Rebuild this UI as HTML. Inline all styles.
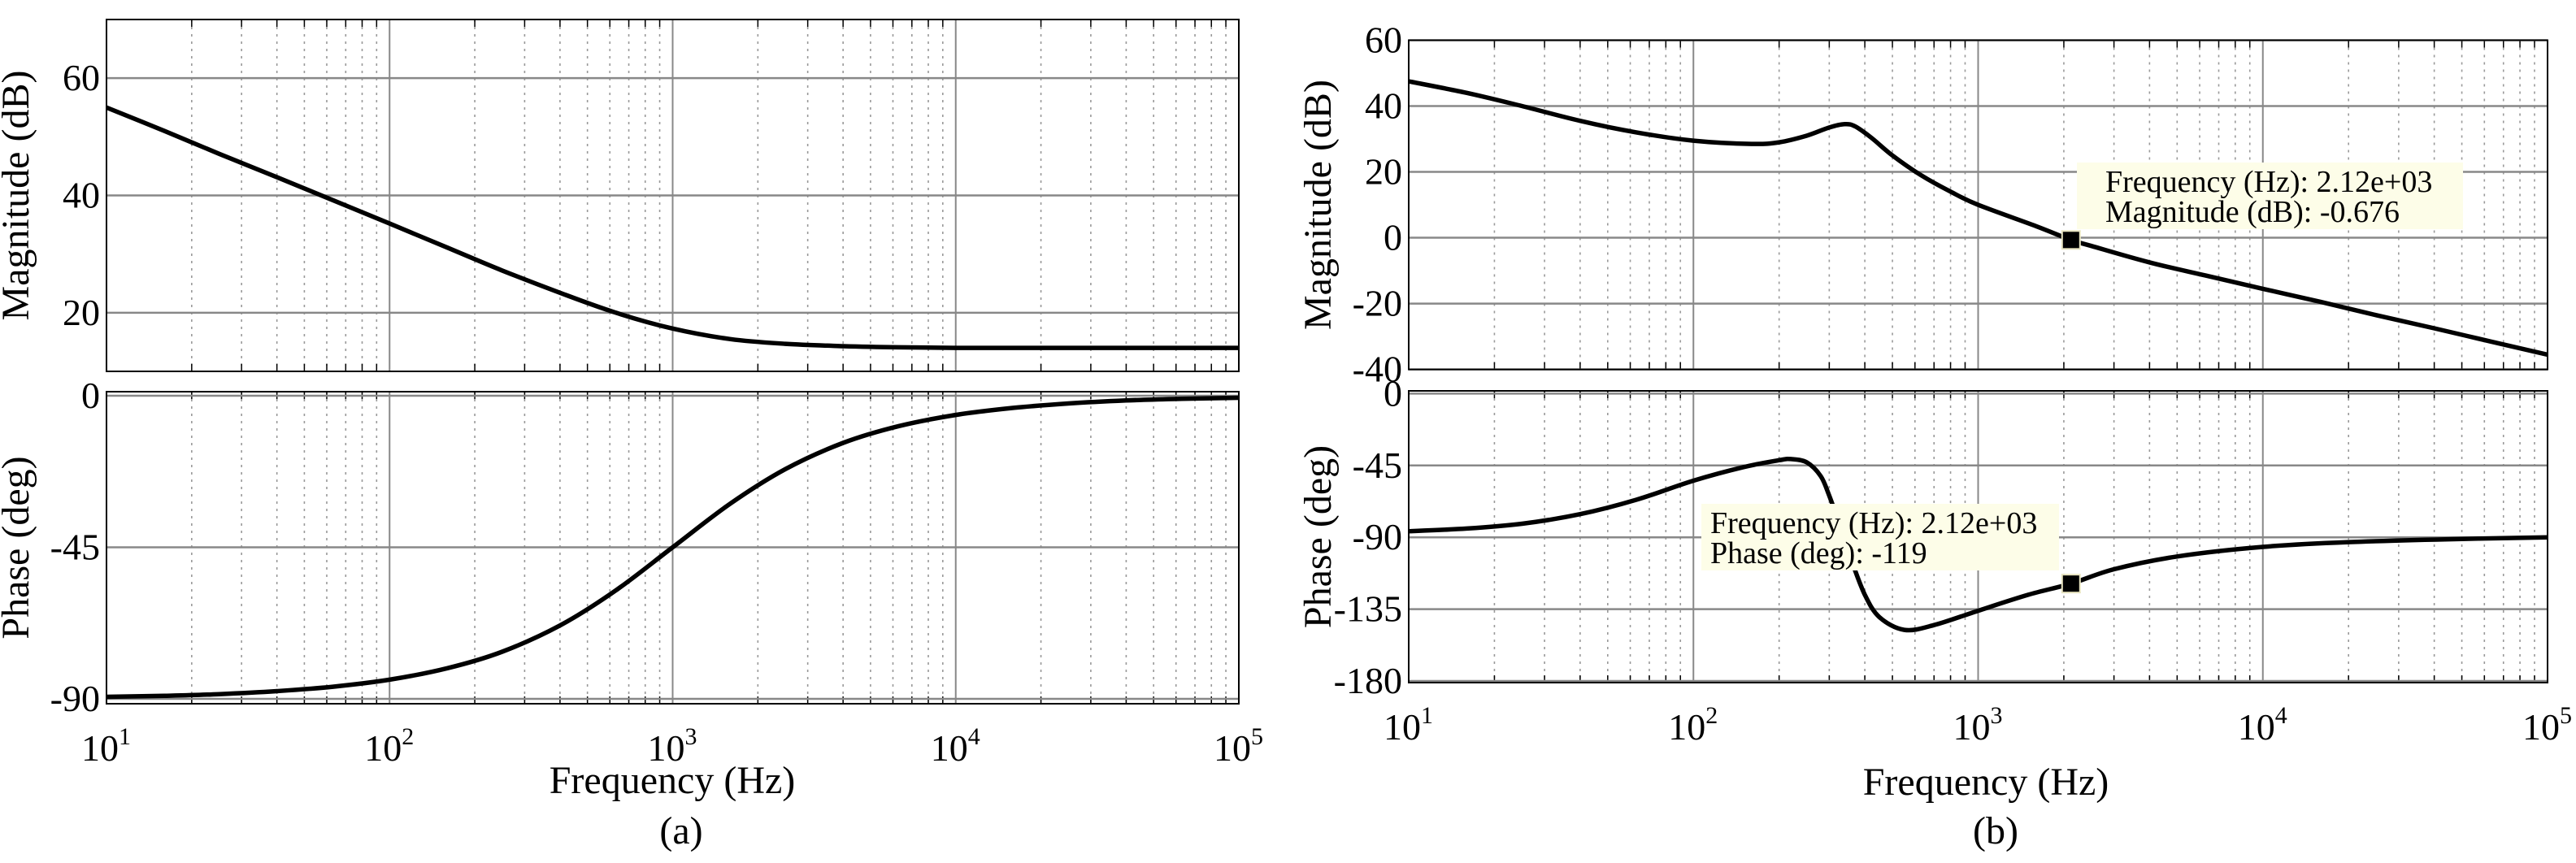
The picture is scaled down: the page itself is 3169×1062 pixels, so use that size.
<!DOCTYPE html>
<html><head><meta charset="utf-8">
<style>
html,body{margin:0;padding:0;background:#fff;}
svg{display:block;}
svg text{font-family:"Liberation Serif","DejaVu Serif",serif;fill:#000;}
</style></head>
<body>
<svg id="c" width="3169" height="1062" viewBox="0 0 3169 1062" font-family="Liberation Serif, serif" xmlns="http://www.w3.org/2000/svg"></svg>
<script>
// Panel (a) data
const aMagFreq = [10,16,25,40,63,100,160,250,400,630,1000,1600,2500,4000,6300,10000,16000,25000,40000,63000,100000];
const aMagVals = [55,51,47.1,43.1,39.2,35.2,31.1,27.2,23.4,20,17.3,15.5,14.7,14.3,14.1,14,14,14,14,14,14];
const aPhFreq = [10,16,25,40,63,100,160,250,400,630,1000,1600,2500,4000,6300,10000,16000,25000,40000,63000,100000];
const aPhVals = [-89.4,-89.1,-88.6,-87.7,-86.4,-84.3,-80.9,-76,-68.2,-57.8,-45,-32,-21.8,-14,-9,-5.7,-3.6,-2.3,-1.4,-0.9,-0.6];
// Panel (b) data
const bMagFreq = [10,16,25,40,63,100,160,200,250,300,340,370,420,500,630,800,1000,1600,2120,2500,4000,6300,10000,16000,25000,40000,63000,100000];
const bMagVals = [47.5,44,40,35.5,32,29.5,28.5,29,31,33.5,34.5,33.8,30.5,25,19,14,10,3.5,-0.676,-2.5,-7.5,-11.5,-15.5,-19.5,-23.5,-27.5,-31.5,-35.5];
const bPhFreq = [10,16,25,40,63,100,150,200,220,250,280,300,330,360,400,450,550,700,1000,1500,2120,3000,5000,10000,20000,50000,100000];
const bPhVals = [-86.2,-84.5,-81.5,-75.5,-66.5,-54.5,-46,-41.7,-41,-43,-51.7,-64,-84.5,-105,-126,-140,-148,-145,-136,-126,-119,-110,-102,-96,-93,-91,-90];
const xTickLabels = ["1","2","3","4","5"];
const aMagTicks = [20,40,60];
const aPhTicks = [0,-45,-90];
const bMagTicks = [60,40,20,0,-20,-40];
const bPhTicks = [0,-45,-90,-135,-180];
const tipFreq = 2120, tipMag = -0.676, tipPh = -119;

const svg = document.getElementById('c');
const NS = 'http://www.w3.org/2000/svg';
function mk(tag, attrs, parent){const e=document.createElementNS(NS,tag);for(const k in attrs)e.setAttribute(k,attrs[k]);(parent||svg).appendChild(e);return e;}

function axisX(x0,x1){return f=>x0+(Math.log10(f)-1)/4*(x1-x0);}
function axisY(vTop,yTop,vBot,yBot){return v=>yTop+(v-vTop)/(vBot-vTop)*(yBot-yTop);}

function pathFrom(fs,vs,X,Y){
  const p=fs.map((f,i)=>[X(f),Y(vs[i])]);
  let d='M'+p[0][0].toFixed(1)+','+p[0][1].toFixed(1);
  for(let i=0;i<p.length-1;i++){
    const p0=p[Math.max(0,i-1)],p1=p[i],p2=p[i+1],p3=p[Math.min(p.length-1,i+2)];
    const c1x=p1[0]+(p2[0]-p0[0])/6,c1y=p1[1]+(p2[1]-p0[1])/6;
    const c2x=p2[0]-(p3[0]-p1[0])/6,c2y=p2[1]-(p3[1]-p1[1])/6;
    d+=' C'+c1x.toFixed(1)+','+c1y.toFixed(1)+' '+c2x.toFixed(1)+','+c2y.toFixed(1)+' '+p2[0].toFixed(1)+','+p2[1].toFixed(1);
  }
  return d;
}

function panel(name,x0,x1,yT,yB,Y,ticks,ylabel,fs,vs,showX,xLabelY){
  const g=mk('g',{});
  
  
  const X=axisX(x0,x1);
  const clipId=name+'-clip';
  const cp=mk('clipPath',{id:clipId},g);
  mk('rect',{x:x0,y:yT,width:x1-x0,height:yB-yT},cp);
  for(let dec=1;dec<5;dec++){for(let m=2;m<=9;m++){
    const x=X(m*Math.pow(10,dec));
    const l=mk('line',{x1:x,x2:x,y1:yT,y2:yB,stroke:'#999','stroke-width':1.6,'stroke-dasharray':'3,6'},g);
    
    
    mk('line',{x1:x,x2:x,y1:yT,y2:yT+9,stroke:'#000','stroke-width':1.5},g);
    mk('line',{x1:x,x2:x,y1:yB,y2:yB-9,stroke:'#000','stroke-width':1.5},g);
  }}
  for(let dec=2;dec<5;dec++){
    const x=X(Math.pow(10,dec));
    const l=mk('line',{x1:x,x2:x,y1:yT,y2:yB,stroke:'#888','stroke-width':2},g);
    
    
  }
  ticks.forEach(v=>{
    const y=Y(v);
    const l=mk('line',{x1:x0,x2:x1,y1:y,y2:y,stroke:'#888','stroke-width':2.5},g);
    
    
    const t=mk('text',{x:x0-8,y:y+15,'text-anchor':'end','font-size':46},g);
    t.textContent=v;
    
    
  });
  const box=mk('rect',{x:x0,y:yT,width:x1-x0,height:yB-yT,fill:'none',stroke:'#000','stroke-width':2},g);
  
  
  const cur=mk('path',{d:pathFrom(fs,vs,X,Y),fill:'none',stroke:'#000','stroke-width':5.5,'stroke-linejoin':'round','clip-path':'url(#'+clipId+')'},g);
  
  
  const cy=(yT+yB)/2;
  const yl=mk('text',{x:0,y:0,'text-anchor':'middle','font-size':48,transform:'translate('+(x0-96)+','+cy+') rotate(-90)'},g);
  yl.textContent=ylabel;
  
  
  if(showX){
    xTickLabels.forEach((e,i)=>{
      const x=X(Math.pow(10,i+1));
      const t=mk('text',{x:x-8,y:xLabelY,'text-anchor':'middle','font-size':46},g);
      t.textContent='10';
      
      
      const s=mk('text',{x:x+15,y:xLabelY-20,'font-size':30},g);
      s.textContent=e;
      
      
    });
  }
  return X;
}

// Panel (a)
const aMagY=axisY(70,24,10,457);
panel('panel-a-magnitude',131,1524,24,457,aMagY,aMagTicks,'Magnitude (dB)',aMagFreq,aMagVals,false);
const aPhY=axisY(0,487,-90,860);
panel('panel-a-phase',131,1524,482,866,aPhY,aPhTicks,'Phase (deg)',aPhFreq,aPhVals,true,936);
let t=mk('text',{x:827,y:976,'text-anchor':'middle','font-size':48});t.textContent='Frequency (Hz)';


t=mk('text',{x:838,y:1038,'text-anchor':'middle','font-size':48});t.textContent='(a)';



// Panel (b)
const bMagY=axisY(60,49.5,-40,454.6);
const bX=panel('panel-b-magnitude',1733,3134,49.5,454.6,bMagY,bMagTicks,'Magnitude (dB)',bMagFreq,bMagVals,false);
const bPhY=axisY(0,484.4,-180,838);
panel('panel-b-phase',1733,3134,481,840,bPhY,bPhTicks,'Phase (deg)',bPhFreq,bPhVals,true,910);
t=mk('text',{x:2443,y:978,'text-anchor':'middle','font-size':48});t.textContent='Frequency (Hz)';


t=mk('text',{x:2455,y:1038,'text-anchor':'middle','font-size':48});t.textContent='(b)';



// Datatips
function tip(name,bx,by,bw,bh,tx,l1,l2,mx,my){
  const g=mk('g',{});
  
  
  mk('rect',{x:bx,y:by,width:bw,height:bh,fill:'#fdfde8'},g);
  const a=mk('text',{x:tx,y:by+36,'font-size':38},g);a.textContent=l1;
  const b=mk('text',{x:tx,y:by+73,'font-size':38},g);b.textContent=l2;
  const m=mk('rect',{x:mx-11,y:my-11,width:22,height:22,fill:'#000',stroke:'#e8e4c0','stroke-width':2},g);
  
  
}
tip('magnitude-datatip',2555,200,475,82,2590,'Frequency (Hz): 2.12e+03','Magnitude (dB): -'+Math.abs(tipMag),bX(tipFreq),bMagY(tipMag));
tip('phase-datatip',2093,620,440,82,2104,'Frequency (Hz): 2.12e+03','Phase (deg): '+tipPh,bX(tipFreq),bPhY(tipPh));
</script>
</body></html>
